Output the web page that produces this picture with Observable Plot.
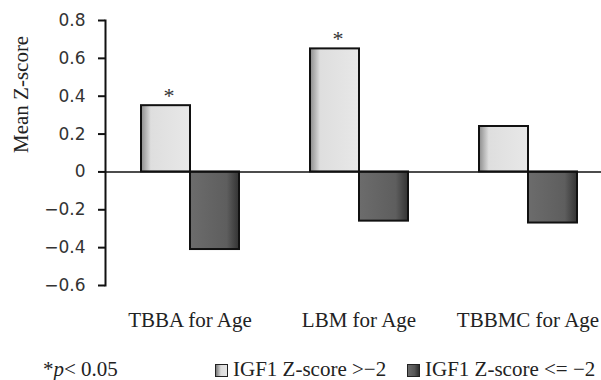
<!DOCTYPE html>
<html>
<head>
<meta charset="utf-8">
<script src="https://cdn.jsdelivr.net/npm/d3@7"></script>
<script src="https://cdn.jsdelivr.net/npm/@observablehq/plot@0.6"></script>
<style>
  html, body { margin: 0; padding: 0; background: #fff; }
  body { width: 601px; height: 380px; overflow: hidden; position: relative; font-family: "Liberation Serif", "Times New Roman", serif; }
  #chart svg { display: block; }
  #legend { position: absolute; left: 0; top: 359px; width: 601px; height: 21px; font-size: 21px; line-height: 21px; color: #222; white-space: nowrap; }
  #legend .item { position: absolute; top: 0; display: flex; align-items: center; }
  #legend .sw { width: 11px; height: 11px; border: 1px solid #222; margin-right: 5px; margin-top: 1px; }
</style>
</head>
<body>
<div id="chart"></div>
<div id="legend"></div>
<script>
// ---- data ----
const categories = ["TBBA for Age", "LBM for Age", "TBBMC for Age"];
const seriesNames = ["IGF1 Z-score >\u22122", "IGF1 Z-score <= \u22122"];
const highIGF = [0.35, 0.65, 0.24];   // IGF1 Z-score > -2
const lowIGF = [-0.41, -0.26, -0.27]; // IGF1 Z-score <= -2
const significant = [true, true, false]; // * p < 0.05 (on the > -2 bar)
const yTicks = [-0.6, -0.4, -0.2, 0, 0.2, 0.4, 0.6, 0.8];
const yLabel = "Mean Z-score";
const noteText = "p< 0.05";

// ---- table built from the arrays ----
const rows = [];
categories.forEach((c, i) => {
  rows.push({cat: c, series: seriesNames[0], value: highIGF[i], sig: significant[i]});
  rows.push({cat: c, series: seriesNames[1], value: lowIGF[i], sig: false});
});
const sigRows = rows.filter(d => d.sig);

const serif = "'Liberation Serif', 'Times New Roman', serif";
const fmt = d => d === 0 ? "0" : d3.format(".1f")(d).replace("-", "\u2212");

const plot = Plot.plot({
  width: 601,
  height: 345,
  marginLeft: 104,
  marginRight: -11,
  marginTop: 20,
  marginBottom: 60,
  style: {background: "#fff", color: "#111", overflow: "hidden"},
  fx: {domain: categories, padding: 0, label: null, axis: null},
  x: {domain: seriesNames, paddingInner: 0, paddingOuter: 0.724, axis: null},
  y: {domain: [-0.6, 0.8], label: null},
  marks: [
    Plot.barY(rows.filter(d => d.series === seriesNames[0]), {
      fx: "cat", x: "series", y: "value",
      fill: "url(#gradLight)", stroke: "#111", strokeWidth: 2
    }),
    Plot.barY(rows.filter(d => d.series === seriesNames[1]), {
      fx: "cat", x: "series", y: "value",
      fill: "url(#gradDark)", stroke: "#111", strokeWidth: 2
    }),
    Plot.ruleY([0], {stroke: "#111", strokeWidth: 1.6}),
    Plot.frame({anchor: "left", facetAnchor: "left", stroke: "#111", strokeWidth: 2}),
    Plot.axisY({
      ticks: yTicks, tickSize: 7, tickPadding: 13, tickFormat: fmt,
      fontFamily: "DejaVu Sans, sans-serif", fontSize: 17, fill: "#333",
      stroke: "#111", strokeWidth: 2, label: null
    }),
    Plot.text([yLabel], {
      frameAnchor: "left", facetAnchor: "left", rotate: -90, dx: -84,
      text: d => d, fontFamily: serif, fontSize: 21, fill: "#222"
    }),
    // category labels below each group
    Plot.text(categories, {
      fx: d => d, frameAnchor: "bottom", lineAnchor: "top", dy: 27,
      text: d => d, fontFamily: serif, fontSize: 21, fill: "#222"
    }),
    Plot.text(sigRows, {
      fx: "cat", x: "series", y: "value", text: () => "*",
      lineAnchor: "bottom", dy: -3, dx: 3,
      fontFamily: serif, fontSize: 22, fill: "#333"
    })
  ]
});

// gradient definitions used by the bar fills
const svg = d3.select(plot);
const defs = svg.insert("defs", ":first-child");
const gl = defs.append("linearGradient").attr("id", "gradLight").attr("x1", "0").attr("x2", "1").attr("y1", "0").attr("y2", "0");
gl.append("stop").attr("offset", "0%").attr("stop-color", "#8c8c8c");
gl.append("stop").attr("offset", "20%").attr("stop-color", "#dedede");
gl.append("stop").attr("offset", "100%").attr("stop-color", "#e8e8e8");
const gd = defs.append("linearGradient").attr("id", "gradDark").attr("x1", "0").attr("x2", "1").attr("y1", "0").attr("y2", "0");
gd.append("stop").attr("offset", "0%").attr("stop-color", "#6c6c6c");
gd.append("stop").attr("offset", "75%").attr("stop-color", "#5e5e5e");
gd.append("stop").attr("offset", "100%").attr("stop-color", "#333333");

document.getElementById("chart").appendChild(plot);

// legend / caption below the chart
const legend = document.getElementById("legend");
const note = document.createElement("div");
note.className = "item";
note.style.left = "43px";
note.innerHTML = "*<i>" + noteText.slice(0, 1) + "</i>" + noteText.slice(1);
legend.appendChild(note);
const swatchFills = ["linear-gradient(to right,#777,#ddd 45%,#e6e6e6)", "linear-gradient(to right,#6a6a6a,#555 60%,#2e2e2e)"];
const lefts = [215, 407];
seriesNames.forEach((name, i) => {
  const it = document.createElement("div");
  it.className = "item";
  it.style.left = lefts[i] + "px";
  const sw = document.createElement("span");
  sw.className = "sw";
  sw.style.background = swatchFills[i];
  const tx = document.createElement("span");
  tx.textContent = name;
  it.appendChild(sw);
  it.appendChild(tx);
  legend.appendChild(it);
});
</script>
</body>
</html>
